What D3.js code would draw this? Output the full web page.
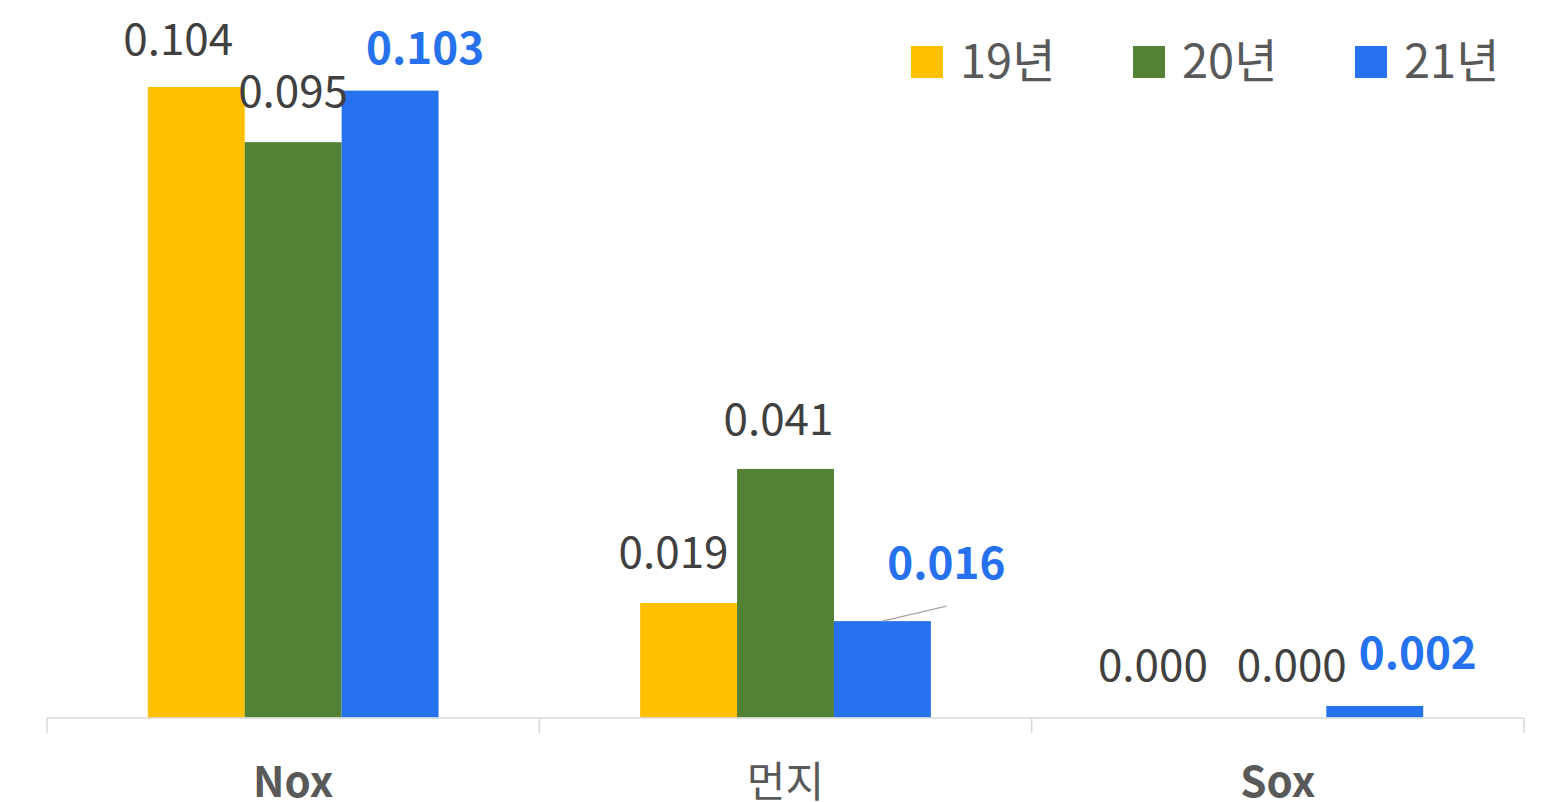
<!DOCTYPE html>
<html>
<head>
<meta charset="utf-8">
<script src="https://cdn.jsdelivr.net/npm/d3@7"></script>
<style>
  body { margin: 0; background: #fff; }
  svg { display: block; font-family: "Noto Sans CJK KR", "Noto Sans", sans-serif; }
</style>
</head>
<body>
<div id="chart"></div>
<script>
// categories and series
var categories = ["Nox", "먼지", "Sox"];
var seriesNames = ["19년", "20년", "21년"];
var colors = ["#FFC000", "#548235", "#2672EE"];

var y19 = [0.104, 0.0189, 0];
var y20 = [0.0949, 0.041, 0];
var y21 = [0.1034, 0.0159, 0.0019];

// manual nudges of the data labels (dx from bar centre, dy from bar top)
var labelShift = [
    [[-18, -32], [0, -35], [35, -27]],
    [[-15, -35], [-7, -34], [64, -42]],
    [[-28, -37], [14, -37], [43, -37]]
];

var w = 1553;
var h = 802;
var baseY = 717.5;

var series = [y19, y20, y21];
var fmt = d3.format(".3f");

var svg = d3.select("#chart")
    .append("svg")
    .attr("width", w)
    .attr("height", h);

var x0 = d3.scaleBand()
    .domain(categories)
    .range([47, 1524])
    .padding(0);

var x1 = d3.scaleBand()
    .domain(seriesNames)
    .range([0, x0.bandwidth()])
    .paddingInner(0)
    .paddingOuter(1.04);

var yScale = d3.scaleLinear()
    .domain([0, 0.12])
    .range([baseY, -10]);

var cells = [];
categories.forEach(function(c, ci) {
    seriesNames.forEach(function(s, si) {
        cells.push({cat: c, ci: ci, name: s, si: si, value: series[si][ci]});
    });
});

// bars
svg.append("g")
    .selectAll("rect")
    .data(cells)
    .enter()
    .append("rect")
    .attr("x", function(d) { return x0(d.cat) + x1(d.name); })
    .attr("width", x1.bandwidth())
    .attr("y", function(d) { return yScale(d.value); })
    .attr("height", function(d) { return baseY - yScale(d.value); })
    .attr("fill", function(d) { return colors[d.si]; });

// x axis
var xAxis = svg.append("g")
    .attr("transform", "translate(0," + (baseY + 0.5) + ")");
xAxis.append("line")
    .attr("x1", 47).attr("x2", 1524)
    .attr("stroke", "#d9d9d9").attr("stroke-width", 1.5);
var edges = categories.map(function(c) { return x0(c); }).concat([x0.range()[1]]);
xAxis.selectAll(".tick")
    .data(edges)
    .enter()
    .append("line")
    .attr("x1", function(d) { return d; })
    .attr("x2", function(d) { return d; })
    .attr("y1", 0).attr("y2", 15)
    .attr("stroke", "#d9d9d9").attr("stroke-width", 1.5);

xAxis.selectAll(".cat")
    .data(categories)
    .enter()
    .append("text")
    .attr("x", function(d) { return x0(d) + x0.bandwidth() / 2; })
    .attr("y", 79)
    .attr("text-anchor", "middle")
    .attr("fill", "#595959")
    .style("font-size", "42px")
    .style("font-weight", function(d) { return d === "먼지" ? "normal" : "bold"; })
    .text(function(d) { return d; });

// leader line for the 21년 먼지 label
var lead = cells[5];
var lsx = x0(lead.cat) + x1(lead.name) + x1.bandwidth() / 2;
var lsy = yScale(lead.value);
svg.append("line")
    .attr("x1", lsx).attr("y1", lsy)
    .attr("x2", lsx + 64).attr("y2", lsy - 15)
    .attr("stroke", "#a6a6a6").attr("stroke-width", 1.5);

// data labels
svg.append("g")
    .selectAll("text")
    .data(cells)
    .enter()
    .append("text")
    .attr("x", function(d) {
        return x0(d.cat) + x1(d.name) + x1.bandwidth() / 2 + labelShift[d.ci][d.si][0];
    })
    .attr("y", function(d) { return yScale(d.value) + labelShift[d.ci][d.si][1]; })
    .attr("text-anchor", "middle")
    .attr("fill", function(d) { return d.si === 2 ? colors[2] : "#404040"; })
    .style("font-size", "44px")
    .style("font-weight", function(d) { return d.si === 2 ? "bold" : "normal"; })
    .text(function(d) { return fmt(d.value); });

// legend
var legendX = [911, 1133, 1355];
var legend = svg.append("g")
    .selectAll("g")
    .data(seriesNames)
    .enter()
    .append("g")
    .attr("transform", function(d, i) { return "translate(" + legendX[i] + ",46)"; });
legend.append("rect")
    .attr("width", 32).attr("height", 32)
    .attr("fill", function(d, i) { return colors[i]; });
legend.append("text")
    .attr("x", 49)
    .attr("y", 32)
    .attr("fill", "#595959")
    .style("font-size", "47px")
    .text(function(d) { return d; });
</script>
</body>
</html>
